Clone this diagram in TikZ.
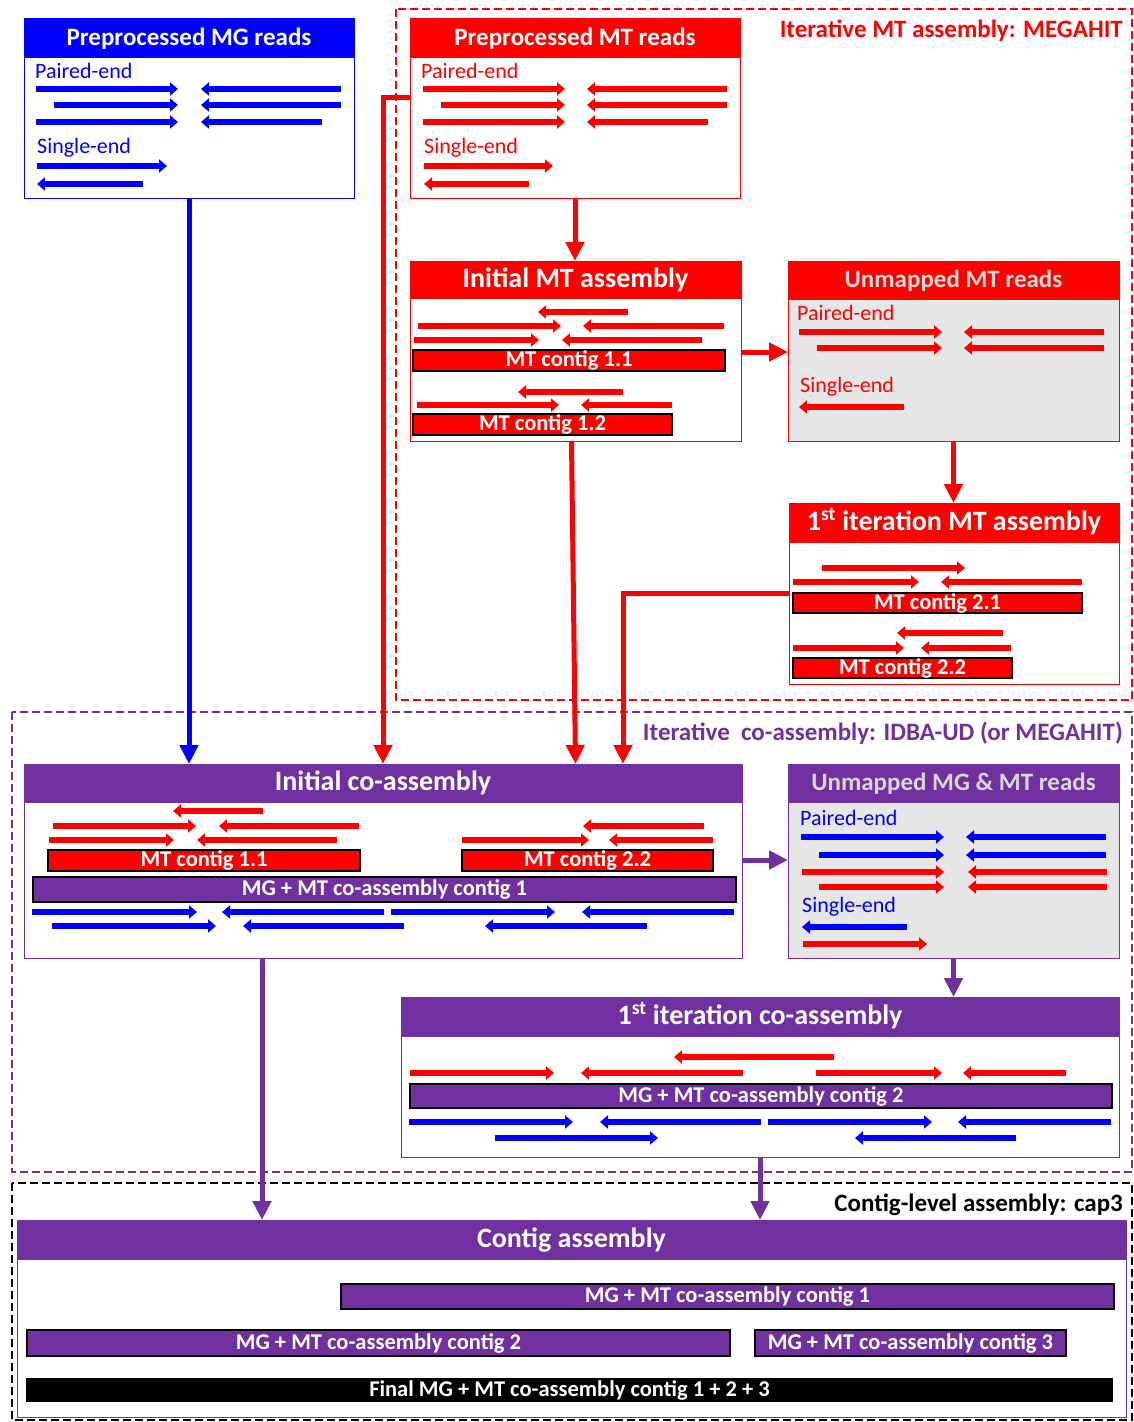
\documentclass[tikz,border=0pt]{standalone}
\usepackage{fontspec}
\setmainfont{Carlito}
\usetikzlibrary{arrows.meta}
\definecolor{mgblue}{RGB}{0,0,255}
\definecolor{mtred}{RGB}{255,0,0}
\definecolor{copurple}{RGB}{112,48,160}
\definecolor{bodygray}{RGB}{230,230,230}
\definecolor{hdrgray}{RGB}{215,215,215}
\newcommand\hA{\fontsize{25}{30}\selectfont\bfseries}
\newcommand\hB{\fontsize{28}{33}\selectfont\bfseries}
\newcommand\lF{\fontsize{22}{26}\selectfont}
\newcommand\cF{\fontsize{22.5}{26}\selectfont\bfseries}
\newcommand\zF{\fontsize{25}{30}\selectfont\bfseries}
\newcommand\rdar[4]{\draw[rd,#1] (#3,#2) -- (#4,#2);}
\newcommand\ctg[7]{\node[contig, fill=#6, minimum width={#4-#2-2.2}, minimum height={#5-#3-2.2}] (#1) at ({(#2+#4)/2},{(#3+#5)/2}) {#7};}
\begin{document}
\begin{tikzpicture}[x=1pt,y=-1pt,
  box/.style={draw, line width=1pt, anchor=north west, inner sep=0pt, outer sep=0pt, fill=white},
  hdr/.style={anchor=north west, inner sep=0pt, outer sep=0pt, text=white, text height=18pt, text depth=4pt},
  lab/.style={anchor=base west, inner sep=0pt, font=\lF},
  zlab/.style={anchor=base east, inner sep=0pt, font=\zF},
  contig/.style={draw=black, line width=2.2pt, inner sep=0pt, text=white, font=\cF, text height=15pt, text depth=3pt},
  rd/.style={line width=6pt, -{Triangle[length=8pt,width=13pt]}},
  conn/.style={line width=5pt, -{Triangle[length=19pt,width=18pt]}},
  zone/.style={line width=2.5pt, dash pattern=on 8pt off 4pt}]
\useasboundingbox (0,0) rectangle (1134,1422);
\fill[white] (0,0) rectangle (1134,1422);
% zones
\draw[zone, mtred] (396,9) rectangle (1132,700);
\draw[zone, copurple] (12,712) rectangle (1132,1172);
\draw[zone, black] (12,1183) rectangle (1132,1420);
\node[zlab, text=mtred] (z1) at (1123,37) {Iterative MT assembly: MEGAHIT};
\node[zlab, text=copurple] (z2) at (1123,740) {Iterative\ \ co-assembly: IDBA-UD (or MEGAHIT)};
\node[zlab, text=black] (z3) at (1123,1211) {Contig-level assembly: cap3};

% ---------- Preprocessed MG reads
\node[box, draw=mgblue, minimum width=330, minimum height=180] (mg) at (24,18) {};
\node[hdr, fill=mgblue, minimum width=330, minimum height=40, font=\hA] (mgh) at (24,18) {Preprocessed MG reads};
\node[lab, text=mgblue] (mgpe) at (35,78) {Paired-end};
\node[lab, text=mgblue] (mgse) at (37,153) {Single-end};
\rdar{mgblue}{89}{36}{178}\rdar{mgblue}{89}{341}{201}
\rdar{mgblue}{105}{54}{178}\rdar{mgblue}{105}{341}{201}
\rdar{mgblue}{122}{36}{178}\rdar{mgblue}{122}{322}{201}
\rdar{mgblue}{166}{37}{167}\rdar{mgblue}{184}{143}{37}

% ---------- Preprocessed MT reads
\node[box, draw=mtred, minimum width=330, minimum height=180] (mt) at (410,18) {};
\node[hdr, fill=mtred, minimum width=330, minimum height=40, font=\hA] (mth) at (410,18) {Preprocessed MT reads};
\node[lab, text=mtred] (mtpe) at (421,78) {Paired-end};
\node[lab, text=mtred] (mtse) at (424,153) {Single-end};
\rdar{mtred}{89}{423}{565}\rdar{mtred}{89}{727}{587}
\rdar{mtred}{105}{441}{565}\rdar{mtred}{105}{727}{587}
\rdar{mtred}{122}{423}{565}\rdar{mtred}{122}{708}{587}
\rdar{mtred}{166}{424}{553}\rdar{mtred}{184}{529}{424}

% ---------- Initial MT assembly
\node[box, draw=mtred, minimum width=331, minimum height=180] (imt) at (410,261) {};
\node[hdr, fill=mtred, minimum width=331, minimum height=38, font=\hB] (imth) at (410,261) {Initial MT assembly};
\rdar{mtred}{312}{628}{538}
\rdar{mtred}{326}{418}{561}\rdar{mtred}{326}{724}{583}
\rdar{mtred}{340}{414}{539}\rdar{mtred}{340}{702}{562}
\ctg{c11}{412}{349}{726}{372}{mtred}{MT contig 1.1}
\rdar{mtred}{392}{623}{518}
\rdar{mtred}{405}{417}{559}\rdar{mtred}{405}{672}{581}
\ctg{c12}{412}{413}{673}{436}{mtred}{MT contig 1.2}

% ---------- Unmapped MT reads
\node[box, draw=mtred, fill=bodygray, minimum width=331, minimum height=180] (umt) at (788,261) {};
\node[hdr, fill=mtred, minimum width=331, minimum height=39, font=\hA, text=hdrgray] (umth) at (788,261) {Unmapped MT reads};
\node[lab, text=mtred] (umtpe) at (797,320) {Paired-end};
\node[lab, text=mtred] (umtse) at (800,392) {Single-end};
\rdar{mtred}{332}{799}{942}\rdar{mtred}{332}{1104}{964}
\rdar{mtred}{348}{817}{942}\rdar{mtred}{348}{1104}{964}
\rdar{mtred}{407}{904}{799}

% ---------- 1st iteration MT assembly
\node[box, draw=mtred, minimum width=330, minimum height=181] (it1) at (789,503) {};
\node[hdr, fill=mtred, minimum width=330, minimum height=40, font=\hB] (it1h) at (789,503) {1\textsuperscript{st} iteration MT assembly};
\rdar{mtred}{568}{822}{965}
\rdar{mtred}{582}{793}{919}\rdar{mtred}{582}{1082}{941}
\ctg{c21}{792}{592}{1083}{614}{mtred}{MT contig 2.1}
\rdar{mtred}{633}{1003}{897}
\rdar{mtred}{648}{793}{904}\rdar{mtred}{648}{1011}{921}
\ctg{c22}{792}{657}{1013}{679}{mtred}{MT contig 2.2}

% ---------- Initial co-assembly
\node[box, draw=copurple, minimum width=718, minimum height=194] (ca) at (24,764) {};
\node[hdr, fill=copurple, minimum width=718, minimum height=39, font=\hB] (cah) at (24,764) {Initial co-assembly};
\rdar{mtred}{811}{263}{173}
\rdar{mtred}{826}{53}{196}\rdar{mtred}{826}{359}{219}
\rdar{mtred}{840}{49}{174}\rdar{mtred}{840}{337}{197}
\rdar{mtred}{826}{704}{583}
\rdar{mtred}{840}{462}{589}\rdar{mtred}{840}{713}{609}
\ctg{ca11}{47}{849}{361}{872}{mtred}{MT contig 1.1}
\ctg{ca22}{461}{849}{714}{872}{mtred}{MT contig 2.2}
\ctg{cc1}{32}{876}{737}{903}{copurple}{MG + MT co-assembly contig 1}
\rdar{mgblue}{912}{32}{197}\rdar{mgblue}{912}{384}{222}
\rdar{mgblue}{912}{391}{555}\rdar{mgblue}{912}{734}{582}
\rdar{mgblue}{926}{52}{216}\rdar{mgblue}{926}{404}{243}
\rdar{mgblue}{926}{647}{485}

% ---------- Unmapped MG & MT reads
\node[box, draw=copurple, fill=bodygray, minimum width=331, minimum height=194] (uca) at (788,764) {};
\node[hdr, fill=copurple, minimum width=331, minimum height=39, font=\hA, text=hdrgray] (ucah) at (788,764) {Unmapped MG \& MT reads};
\node[lab, text=mgblue] (ucape) at (800,825) {Paired-end};
\node[lab, text=mgblue] (ucase) at (802,912) {Single-end};
\rdar{mgblue}{837}{801}{944}\rdar{mgblue}{837}{1106}{966}
\rdar{mgblue}{855}{819}{944}\rdar{mgblue}{855}{1106}{966}
\rdar{mtred}{872}{802}{944}\rdar{mtred}{872}{1107}{968}
\rdar{mtred}{887}{819}{944}\rdar{mtred}{887}{1107}{968}
\rdar{mgblue}{927}{907}{802}
\rdar{mtred}{944}{803}{927}

% ---------- 1st iteration co-assembly
\node[box, draw=copurple, minimum width=718, minimum height=160] (ic2) at (401,997) {};
\node[hdr, fill=copurple, minimum width=718, minimum height=40, font=\hB] (ic2h) at (401,997) {1\textsuperscript{st} iteration co-assembly};
\rdar{mtred}{1057}{834}{674}
\rdar{mtred}{1073}{410}{554}\rdar{mtred}{1073}{743}{581}
\rdar{mtred}{1073}{816}{942}\rdar{mtred}{1073}{1066}{963}
\ctg{cc2}{409}{1083}{1113}{1109}{copurple}{MG + MT co-assembly contig 2}
\rdar{mgblue}{1122}{409}{573}\rdar{mgblue}{1122}{761}{600}
\rdar{mgblue}{1122}{768}{932}\rdar{mgblue}{1122}{1111}{958}
\rdar{mgblue}{1138}{495}{658}\rdar{mgblue}{1138}{1016}{855}

% ---------- Contig assembly
\node[box, draw=copurple, minimum width=1109, minimum height=197] (ctg) at (17,1220) {};
\node[hdr, fill=copurple, minimum width=1109, minimum height=40, font=\hB] (ctgh) at (17,1220) {Contig assembly};
\ctg{f1}{340}{1283}{1115}{1310}{copurple}{MG + MT co-assembly contig 1}
\ctg{f2}{26}{1329}{731}{1357}{copurple}{MG + MT co-assembly contig 2}
\ctg{f3}{754}{1329}{1067}{1357}{copurple}{MG + MT co-assembly contig 3}
\ctg{fin}{26}{1378}{1113}{1402}{black}{Final MG + MT co-assembly contig 1 + 2 + 3}

% ---------- connectors
\coordinate (p383) at (383,97);
\coordinate (p352) at (760,352);
\coordinate (p623) at (623,593);
\coordinate (p860) at (760,860);
\coordinate (p262) at (262,1000);
\draw[conn, mgblue] (mg.south) -- (mg.south |- cah.north);
\draw[conn, mtred] (mt.west |- p383) -- (p383) -- (p383 |- cah.north);
\draw[conn, mtred] (mt.south) -- (mt.south |- imth.north);
\draw[conn, mtred] ([xshift=-4pt]imt.south) -- (imt.south |- cah.north);
\draw[conn, mtred] (imt.east |- p352) -- (umt.west |- p352);
\draw[conn, mtred] (umt.south) -- (umt.south |- it1h.north);
\draw[conn, mtred] (it1.west |- p623) -- (p623) -- (p623 |- cah.north);
\draw[conn, copurple] (ca.east |- p860) -- (uca.west |- p860);
\draw[conn, copurple] (uca.south) -- (uca.south |- ic2h.north);
\draw[conn, copurple] (p262 |- ca.south) -- (p262 |- ctgh.north);
\draw[conn, copurple] (ic2.south) -- (ic2.south |- ctgh.north);
\end{tikzpicture}
\end{document}
